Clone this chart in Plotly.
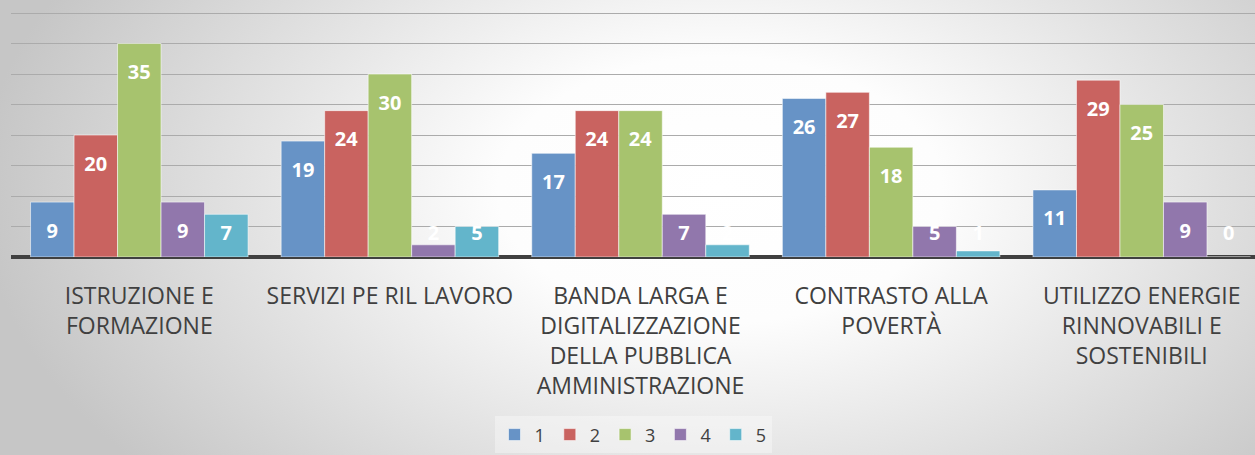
import base64
import plotly.graph_objects as go

categories = [
    "ISTRUZIONE E<br>FORMAZIONE",
    "SERVIZI PE RIL LAVORO",
    "BANDA LARGA E<br>DIGITALIZZAZIONE<br>DELLA PUBBLICA<br>AMMINISTRAZIONE",
    "CONTRASTO ALLA<br>POVERTÀ",
    "UTILIZZO ENERGIE<br>RINNOVABILI E<br>SOSTENIBILI",
]
series_names = ["1", "2", "3", "4", "5"]
s1 = [9, 19, 17, 26, 11]
s2 = [20, 24, 24, 27, 29]
s3 = [35, 30, 24, 18, 25]
s4 = [9, 2, 7, 5, 9]
s5 = [7, 5, 2, 1, 0]
series_values = [s1, s2, s3, s4, s5]
colors = ["#6793C6", "#C96360", "#A7C36E", "#9177AC", "#63B5CB"]

W, H = 1255, 455
ML, MR, MT, MB = 11, 0, 10, 198
pw, ph = W - ML - MR, H - MT - MB

svg = f'''<svg xmlns="http://www.w3.org/2000/svg" width="{W}" height="{H + 40}">
<defs><radialGradient id="g" gradientUnits="userSpaceOnUse" cx="720" cy="190" r="740"
 gradientTransform="translate(0,76) scale(1,0.6)">
<stop offset="0" stop-color="#ffffff"/><stop offset="0.3" stop-color="#fdfdfd"/>
<stop offset="1" stop-color="#c6c6c6"/></radialGradient></defs>
<rect width="{W}" height="{H + 40}" fill="url(#g)"/></svg>'''
bg_uri = "data:image/svg+xml;base64," + base64.b64encode(svg.encode()).decode()

fig = go.Figure()
for name, vals, col in zip(series_names, series_values, colors):
    fig.add_trace(go.Bar(
        x=categories, y=vals, name=name,
        marker=dict(color=col, line=dict(color="rgba(255,255,255,0.55)", width=1)),
        hoverinfo="skip",
    ))

# data labels: overlay transparent bars on a matching axis
for name, vals in zip(series_names, series_values):
    centers = [max(v - 4.6, 4.0) for v in vals]
    fig.add_trace(go.Bar(
        x=categories, y=[2] * len(vals), base=[c - 1 for c in centers],
        xaxis="x2", showlegend=False, hoverinfo="skip",
        marker=dict(color="rgba(0,0,0,0)", line=dict(width=0)),
        text=[str(v) for v in vals], textposition="inside", textangle=0,
        insidetextanchor="middle", constraintext="none",
        textfont=dict(family="Open Sans", size=20, color="white", weight="bold"),
        cliponaxis=False,
    ))

xr = [-0.512, 4.452]
fig.update_layout(
    width=W, height=H,
    margin=dict(l=ML, r=MR, t=MT, b=MB),
    paper_bgcolor="#dedede", plot_bgcolor="rgba(0,0,0,0)",
    barmode="group", bargap=0.132, bargroupgap=0,
    font=dict(family="Open Sans", color="#404040"),
    xaxis=dict(range=xr, categoryorder="array", categoryarray=categories,
               showgrid=False, zeroline=False, showline=False, ticks="",
               tickfont=dict(family="Open Sans", size=23, color="#404040"),
               ticklabelstandoff=23, fixedrange=True),
    xaxis2=dict(range=xr, categoryorder="array", categoryarray=categories,
                overlaying="x", visible=False, fixedrange=True),
    yaxis=dict(range=[0, 40.5], dtick=5, showticklabels=False,
               showgrid=True, gridcolor="#ababab", gridwidth=1.3,
               zeroline=True, zerolinecolor="#404040", zerolinewidth=3.5,
               fixedrange=True),
    legend=dict(orientation="h", x=0.5, xanchor="center", y=-0.795, yanchor="bottom",
                font=dict(family="Open Sans", size=18, color="#404040"),
                bgcolor="rgba(255,255,255,0.35)", itemwidth=30, traceorder="normal"),
    images=[dict(source=bg_uri, xref="paper", yref="paper",
                 x=-ML / pw, y=1 + MT / ph, sizex=W / pw, sizey=(H + 40) / ph,
                 xanchor="left", yanchor="top", sizing="stretch", layer="below")],
    showlegend=True,
)

fig.write_html("out.html", config={"displayModeBar": False},
               post_script="document.body.style.margin='0';document.body.style.overflow='hidden';")
